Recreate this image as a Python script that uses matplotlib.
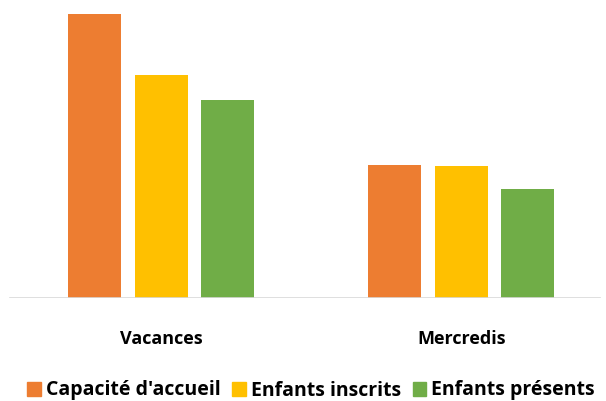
import matplotlib.pyplot as plt
from matplotlib.patches import Patch

# ── Data (arbitrary units) ───────────────────────────────────────────────────
categories = ["Vacances", "Mercredis"]
series_names = ["Capacité d'accueil", "Enfants inscrits", "Enfants présents"]
capacite = [284, 133]
inscrits = [223, 132]
presents = [198, 109]

COLORS = ["#ED7D31", "#FFC000", "#70AD47"]
FONT = "Open Sans"

fig = plt.figure(figsize=(6.06, 4.01), dpi=100)
ax = fig.add_axes([0, 1 - 298 / 401, 1, 298 / 401])

x = list(range(len(categories)))
width = 53 / 300
step = 66.5 / 300
for i, (vals, col) in enumerate(zip([capacite, inscrits, presents], COLORS)):
    ax.bar([xi + (i - 1) * step for xi in x], vals, width=width, color=col,
           zorder=2)

ax.set_ylim(0, 298)
ax.set_xlim(-0.505 - 10 / 300, 1.462 + 6 / 300)
ax.axhline(0, xmin=10 / 606, xmax=600 / 606, color="#D9D9D9", lw=1.2,
           zorder=3)
for s in ax.spines.values():
    s.set_visible(False)
ax.set_yticks([])
ax.set_xticks(x)
ax.set_xticklabels(categories, fontsize=13, fontweight="bold", family=FONT)
ax.tick_params(axis="x", length=0, pad=23)

handles = [Patch(color=c, label=n) for c, n in zip(COLORS, series_names)]
fig.legend(handles=handles, loc="center", bbox_to_anchor=(311 / 606, 1 - 390.5 / 401),
           ncol=3, frameon=False, handlelength=0.7, handleheight=0.7,
           handletextpad=0.25, columnspacing=0.6, borderpad=0,
           prop={"family": FONT, "weight": "bold", "size": 14})

fig.savefig("out.png", dpi=100)
